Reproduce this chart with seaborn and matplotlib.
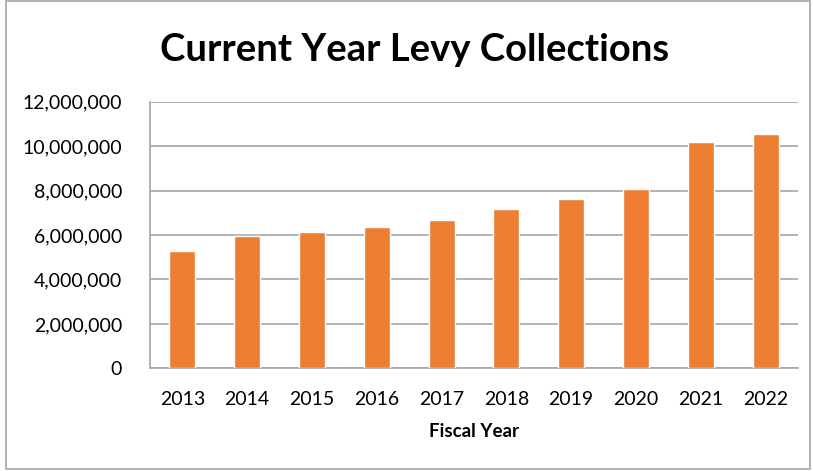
import pandas as pd
import numpy as np
import seaborn as sns
import matplotlib.pyplot as plt
from matplotlib.ticker import FuncFormatter, FixedLocator
from matplotlib.patches import Rectangle

years = ['2013', '2014', '2015', '2016', '2017', '2018', '2019', '2020', '2021', '2022']
collections = [5300000, 5950000, 6150000, 6380000, 6690000, 7180000, 7630000, 8060000, 10210000, 10540000]

df = pd.DataFrame({'Fiscal Year': years, 'Collections': collections})

sns.set_style('white')
plt.rcParams['font.family'] = ['Lato', 'DejaVu Sans']
plt.rcParams['text.color'] = 'black'

fig = plt.figure(figsize=(8.13, 4.71), dpi=100)
ax = fig.add_axes([0.1845, 0.218, 0.797, 0.566])

sns.barplot(data=df, x='Fiscal Year', y='Collections', color='#ED7D31', width=0.4,
            saturation=1, ax=ax, zorder=3)

ax.set_ylim(0, 12000000)
ax.set_yticks(np.arange(0, 12000001, 2000000))
ax.yaxis.set_major_formatter(FuncFormatter(lambda v, p: f'{int(v):,}'))
ax.yaxis.grid(True, color='#A6A6A6', linewidth=1.2, zorder=0)
ax.set_axisbelow(True)

# ticks between categories like Excel
ax.set_xlim(-0.5, len(years) - 0.5)
ax.xaxis.set_minor_locator(FixedLocator(np.arange(-0.5, len(years), 1)))
ax.tick_params(axis='x', which='major', length=0, labelsize=14, pad=16, colors='black')
ax.tick_params(axis='x', which='minor', length=6, width=1, color='#A6A6A6')
ax.tick_params(axis='y', length=6, width=1, color='#A6A6A6', labelsize=14, pad=14, labelcolor='black')

for s in ['top', 'right']:
    ax.spines[s].set_visible(False)
for s in ['left', 'bottom']:
    ax.spines[s].set_color('#A6A6A6')
    ax.spines[s].set_linewidth(1.2)

ax.set_ylabel('')
ax.set_xlabel('Fiscal Year', fontsize=13.5, fontweight='bold', labelpad=11, color='black')
fig.text(0.51, 0.893, 'Current Year Levy Collections', ha='center', va='center',
         fontsize=27.5, fontweight='bold', color='black')

fig.patches.append(Rectangle((0.007, 0.004), 0.989, 0.993, transform=fig.transFigure,
                             fill=False, edgecolor='#A6A6A6', linewidth=1.2))

plt.savefig('out.png', dpi=100)
